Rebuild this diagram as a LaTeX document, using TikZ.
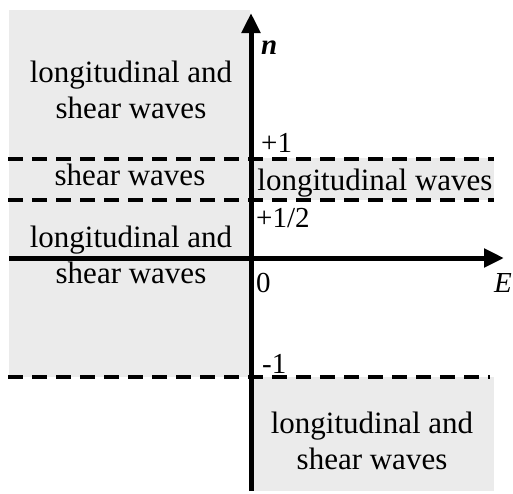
\documentclass[tikz,border=0pt]{standalone}
\usepackage{fontspec}
\setmainfont{Liberation Serif}
\usetikzlibrary{arrows.meta}
\definecolor{zone}{RGB}{235,235,235}
\tikzset{
  zonefill/.style={fill=zone,draw=none},
  bound/.style={line width=4.5pt,dash pattern=on 15pt off 9pt},
  axis/.style={line width=5pt,-{Triangle[length=20pt,width=18pt]}},
  lbl/.style={font=\fontsize{31}{36}\selectfont,anchor=base,inner sep=0pt,align=center},
  tick/.style={font=\fontsize{29}{34}\selectfont,anchor=base west,inner sep=0pt}
}
\begin{document}
\begin{tikzpicture}[x=1pt,y=-1pt]
\useasboundingbox (0,0) rectangle (513,493);
% shaded regions
\fill[zonefill] (9,10) rectangle (250,377);
\fill[zonefill] (250,158) rectangle (494,200);
\fill[zonefill] (250,377) rectangle (494,491);
% dashed boundaries
\coordinate (p1l) at (8,159);
\coordinate (p1r) at (494,159);
\coordinate (p2l) at (8,200);
\coordinate (p2r) at (494,200);
\coordinate (m1l) at (8,377);
\coordinate (m1r) at (490,377);
\draw[bound,line width=3.5pt] (p1l) -- (p1r);
\draw[bound] (p2l) -- (p2r);
\draw[bound] (m1l) -- (m1r);
% axes
\coordinate (xs) at (9,258);
\coordinate (xe) at (504,258);
\coordinate (ys) at (251,491);
\coordinate (ye) at (251,13);
\draw[axis] (xs) -- (xe);
\draw[axis] (ys) -- (ye);
% region texts
\node[lbl] (tl1) at (131,82) {longitudinal and};
\node[lbl] (tl2) at (131,118) {shear waves};
\node[lbl] (sw) at (130,185) {shear waves};
\node[lbl] (lw) at (375,190) {longitudinal waves};
\node[lbl] (ml1) at (131,247) {longitudinal and};
\node[lbl] (ml2) at (131,283) {shear waves};
\node[lbl] (br1) at (372,433) {longitudinal and};
\node[lbl] (br2) at (372,469) {shear waves};
% axis labels
\node[tick] (n) at (261,54) {\textbf{\textit{n}}};
\node[tick] (one) at (261,152) {+1};
\node[tick] (half) at (256,227) {+1/2};
\node[tick] (zero) at (256,292) {0};
\node[tick] (E) at (494,292) {\textit{E}};
\node[tick] (mone) at (262,373) {-1};
\end{tikzpicture}
\end{document}
